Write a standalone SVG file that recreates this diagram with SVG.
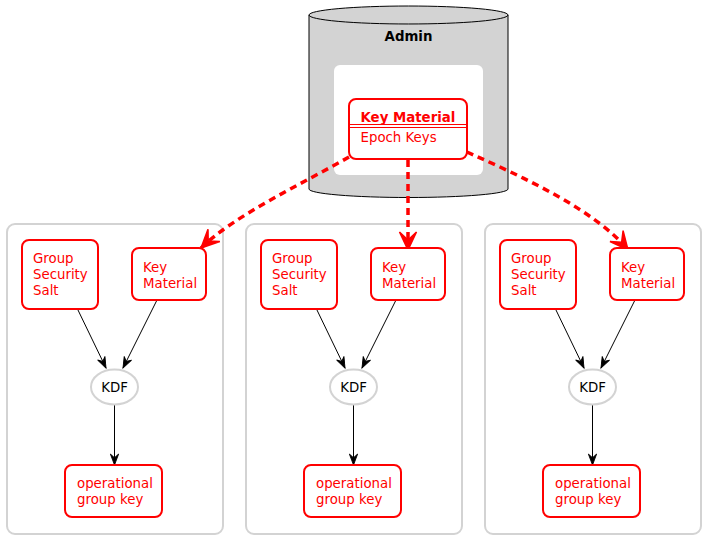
<svg xmlns="http://www.w3.org/2000/svg" width="705" height="539" viewBox="0 0 705 539">
<style>
text{font-family:"DejaVu Sans",Verdana,sans-serif;font-size:13.33px}
.r{fill:#ff0000}
.b{font-weight:bold}
.box{fill:#ffffff;stroke:#ff0000;stroke-width:2}
.cl{fill:#ffffff;stroke:#d3d3d3;stroke-width:2}
.kdf{fill:#ffffff;stroke:#d3d3d3;stroke-width:2}
.e{fill:none;stroke:#000000;stroke-width:1}
.d{fill:none;stroke:#ff0000;stroke-width:3.5;stroke-dasharray:7,5}
</style>
<defs>
<marker id="va" markerUnits="userSpaceOnUse" markerWidth="20" markerHeight="20" refX="0" refY="0" viewBox="-20 -10 22 20" orient="auto" overflow="visible">
<path d="M0,0 L-12,-4.5 L-8,0 L-12,4.5 Z" fill="#000000" stroke="#000000" stroke-width="1"/>
</marker>
<marker id="vr" markerUnits="userSpaceOnUse" markerWidth="24" markerHeight="24" refX="0" refY="0" viewBox="-22 -12 24 24" orient="auto" overflow="visible">
<path d="M0,0 L-18,-8.5 L-10,0 L-18,8.5 Z" fill="#ff0000" stroke="#ff0000" stroke-width="1.5" stroke-linejoin="miter"/>
</marker>
</defs>
<rect width="705" height="539" fill="#ffffff"/>
<g id="admin">
<path d="M309,15 L309,189 A99.5,8.5 0 0 0 508,189 L508,15 A99.5,9 0 0 0 309,15 A99.5,9 0 0 0 508,15" fill="#d3d3d3" stroke="#000000" stroke-width="1"/>
<text x="408.5" y="41" text-anchor="middle" class="b">Admin</text>
<rect x="334" y="65" width="149" height="110" rx="6" fill="#ffffff"/>
</g>
<g id="clusters">
<rect class="cl" x="7" y="224" width="216" height="310" rx="8"/>
<rect class="cl" x="246" y="224" width="216" height="310" rx="8"/>
<rect class="cl" x="485" y="224" width="216" height="310" rx="8"/>
</g>
<g id="keymaterial">
<rect class="box" x="349" y="99" width="118" height="60" rx="7"/>
<line x1="349" y1="124.5" x2="467" y2="124.5" stroke="#ff0000" stroke-width="1"/>
<line x1="349" y1="127.5" x2="467" y2="127.5" stroke="#ff0000" stroke-width="1"/>
<text x="360.5" y="121.5" class="r b">Key Material</text>
<text x="360.5" y="141.5" class="r">Epoch Keys</text>
</g>
<g id="connectors">
<path class="d" d="M349,157 C300,185 235,215 201,248" marker-end="url(#vr)"/>
<path class="d" d="M408,160 L408,250" marker-end="url(#vr)"/>
<path class="d" d="M467,152 C525,178 595,210 628,250" marker-end="url(#vr)"/>
<path class="e" d="M77,308 L106,368" marker-end="url(#va)"/>
<path class="e" d="M157,300 L123,368" marker-end="url(#va)"/>
<path class="e" d="M114.5,405 L114.5,465" marker-end="url(#va)"/>
<path class="e" d="M316,308 L345,368" marker-end="url(#va)"/>
<path class="e" d="M396,300 L362,368" marker-end="url(#va)"/>
<path class="e" d="M353.5,405 L353.5,465" marker-end="url(#va)"/>
<path class="e" d="M555,308 L584,368" marker-end="url(#va)"/>
<path class="e" d="M635,300 L601,368" marker-end="url(#va)"/>
<path class="e" d="M592.5,405 L592.5,465" marker-end="url(#va)"/>
</g>
<g id="salt1"><rect class="box" x="22" y="240" width="76" height="69" rx="7"/><text class="r" x="33" y="263">Group</text><text class="r" x="33" y="279">Security</text><text class="r" x="33" y="295">Salt</text></g>
<g id="km1"><rect class="box" x="132" y="248" width="74" height="52" rx="7"/><text class="r" x="143" y="271.5">Key</text><text class="r" x="143" y="287.5">Material</text></g>
<g id="kdf1"><ellipse class="kdf" cx="114.5" cy="387" rx="23.5" ry="17.5"/><text x="114.5" y="392" text-anchor="middle">KDF</text></g>
<g id="opk1"><rect class="box" x="65" y="465" width="97" height="52" rx="7"/><text class="r" x="77" y="488">operational</text><text class="r" x="77" y="504">group key</text></g>
<g id="salt2"><rect class="box" x="261" y="240" width="76" height="69" rx="7"/><text class="r" x="272" y="263">Group</text><text class="r" x="272" y="279">Security</text><text class="r" x="272" y="295">Salt</text></g>
<g id="km2"><rect class="box" x="371" y="248" width="74" height="52" rx="7"/><text class="r" x="382" y="271.5">Key</text><text class="r" x="382" y="287.5">Material</text></g>
<g id="kdf2"><ellipse class="kdf" cx="353.5" cy="387" rx="23.5" ry="17.5"/><text x="353.5" y="392" text-anchor="middle">KDF</text></g>
<g id="opk2"><rect class="box" x="304" y="465" width="97" height="52" rx="7"/><text class="r" x="316" y="488">operational</text><text class="r" x="316" y="504">group key</text></g>
<g id="salt3"><rect class="box" x="500" y="240" width="76" height="69" rx="7"/><text class="r" x="511" y="263">Group</text><text class="r" x="511" y="279">Security</text><text class="r" x="511" y="295">Salt</text></g>
<g id="km3"><rect class="box" x="610" y="248" width="74" height="52" rx="7"/><text class="r" x="621" y="271.5">Key</text><text class="r" x="621" y="287.5">Material</text></g>
<g id="kdf3"><ellipse class="kdf" cx="592.5" cy="387" rx="23.5" ry="17.5"/><text x="592.5" y="392" text-anchor="middle">KDF</text></g>
<g id="opk3"><rect class="box" x="543" y="465" width="97" height="52" rx="7"/><text class="r" x="555" y="488">operational</text><text class="r" x="555" y="504">group key</text></g>
</svg>
